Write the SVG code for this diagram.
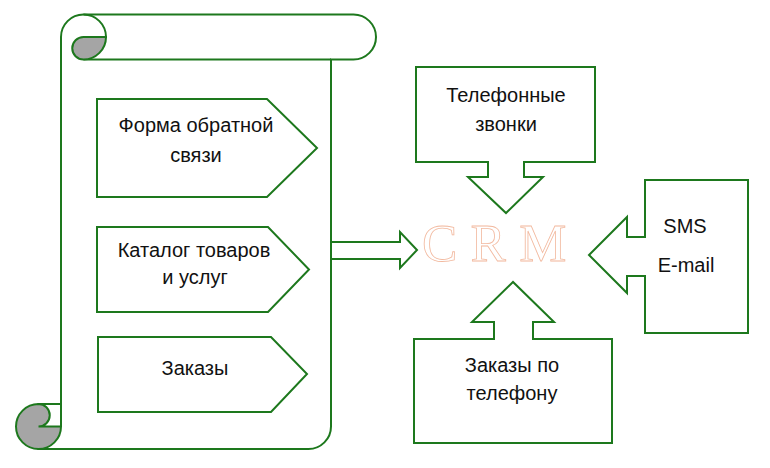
<svg xmlns="http://www.w3.org/2000/svg" width="770" height="468" viewBox="0 0 770 468">
<style>
.s{fill:#fff;stroke:#1d781d;stroke-width:2;stroke-linejoin:miter}
.ln{fill:none;stroke:#1d781d;stroke-width:2}
.g{fill:#a5a5a5;stroke:#1d781d;stroke-width:2}
.t{font-family:"Liberation Sans",Arial,sans-serif;font-size:20px;fill:#111;text-anchor:middle}
.crm{font-family:"Liberation Serif","Times New Roman",serif;font-size:53px;fill:#fff;stroke:#f2b99f;stroke-width:0.8;text-anchor:start}
</style>
<rect width="770" height="468" fill="#fff"/>
<g id="scroll">
<path class="s" d="M61,37 A22.5,22.5 0 0 1 83.5,14.5 H353.5 A22.5,22.5 0 0 1 353.5,59.5 H331 V426.5 A22.5,22.5 0 0 1 308.5,449 H38.5 V404 H61 Z"/>
<path class="ln" d="M83.5,14.5 A22.5,22.5 0 0 1 106,37 H83.5 M83.5,59.5 H331"/>
<path class="g" d="M83.5,37 H106 A22.5,22.5 0 0 1 83.5,59.5 A11.25,11.25 0 0 1 83.5,37 Z"/>
<path class="g" d="M38.5,404 A22.5,22.5 0 1 0 61,426.5 H38.5 A11.25,11.25 0 0 0 38.5,404 Z"/>
<path class="ln" d="M61,37 V426.5"/>
</g>
<g id="forma">
<polygon class="s" points="97,99 267,99 317,148 267,197 97,197"/>
<text class="t" x="196" y="132">Форма обратной</text>
<text class="t" x="196" y="162">связи</text>
</g>
<g id="katalog">
<polygon class="s" points="97,227 268,227 309,269.5 268,312 97,312"/>
<text class="t" x="194" y="257">Каталог товаров</text>
<text class="t" x="195" y="284">и услуг</text>
</g>
<g id="zakazy">
<polygon class="s" points="98,337 271,337 307,374 271,412 98,412"/>
<text class="t" x="195" y="375">Заказы</text>
</g>
<g id="connectors">
<polygon class="s" points="331,242 400,242 400,232 417,250 400,268 400,259 331,259"/>
</g>
<g id="crm">
<text class="crm" x="422" y="261">C R M</text>
</g>
<g id="zvonki">
<path class="s" d="M416,67 H595 V162 H524 V177 H543 L506,213 L468,177 H488 V162 H416 Z"/>
<text class="t" x="506" y="102">Телефонные</text>
<text class="t" x="506" y="131">звонки</text>
</g>
<g id="sms">
<path class="s" d="M645,180 H748 V333 H645 V276 H627 V293 L589,255 L627,217 V237 H645 Z"/>
<text class="t" x="685" y="233">SMS</text>
<text class="t" x="686" y="272">E-mail</text>
</g>
<g id="zakazy-tel">
<path class="s" d="M414,339 H494 V322 H472 L513,282 L554,322 H533 V339 H612 V443 H414 Z"/>
<text class="t" x="512" y="372">Заказы по</text>
<text class="t" x="512" y="400">телефону</text>
</g>
</svg>
